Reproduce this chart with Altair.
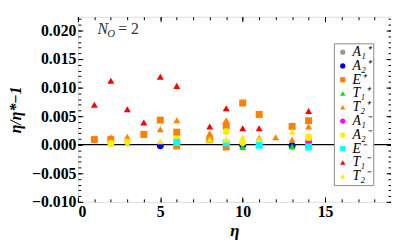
import altair as alt
import pandas as pd

# ---------------- data ----------------
cats = ["A₁⁺", "A₂⁺", "E⁺", "T₁⁺", "T₂⁺", "A₁⁻", "A₂⁻", "E⁻", "T₁⁻", "T₂⁻"]
colors = ["#9a9a9a", "#0000EE", "#FF8000", "#00E000", "#FF8000",
          "#FF00FF", "#FFEE00", "#00FFFF", "#FF0000", "#FFEE00"]
shapes = ["circle", "circle", "square", "triangle-up", "triangle-up",
          "circle", "circle", "square", "triangle-up", "triangle-up"]

A1p_x, A1p_y = [], []
A2p_x = [5, 10, 13, 14]
A2p_y = [-0.0002, -0.0001, -0.0002, -0.0002]
Ep_x = [1, 2, 4, 5, 6, 6, 8, 9, 9, 10, 11, 13, 14]
Ep_y = [0.0009, 0.0009, 0.0018, 0.0043, 0.0022, -0.0002, 0.0009, 0.0033,
        -0.0004, 0.0073, 0.0053, 0.0032, 0.0042]
T1p_x = [10, 13]
T1p_y = [-0.0004, -0.0003]
T2p_x = [2, 3, 5, 6, 8, 8, 9, 11, 12, 13, 14]
T2p_y = [0.0013, 0.0014, 0.0027, 0.0043, 0.0020, 0.0011, 0.0043, 0.0012,
         0.0013, 0.0009, 0.0032]
A1m_x = [14]
A1m_y = [0.0006]
A2m_x = [2, 3, 6, 9, 10, 14]
A2m_y = [0.0002, 0.0005, 0.0010, 0.0023, 0.0004, 0.0014]
Em_x = [6, 9, 11, 14]
Em_y = [0.0004, 0.0003, -0.0001, -0.0004]
T1m_x = [1, 2, 3, 4, 5, 6, 8, 9, 10, 11, 14]
T1m_y = [0.0070, 0.0112, 0.0062, 0.0039, 0.0119, 0.0103, 0.0032, 0.0064,
         0.0029, 0.0029, 0.0059]
T2m_x = [2, 5, 8, 9, 10, 11, 13, 14]
T2m_y = [0.0003, 0.0006, 0.0009, 0.0009, 0.0012, 0.0010, 0.0023, 0.0012]

x_major = [0, 5, 10, 15]
x_minor = list(range(0, 20))
y_major = [-0.010, -0.005, 0.000, 0.005, 0.010, 0.015, 0.020]
y_minor = [round(-0.010 + 0.001 * i, 3) for i in range(33)]

ann_x, ann_y = 1.19, 0.0193

# ---------------- table ----------------
series = [(A1p_x, A1p_y), (A2p_x, A2p_y), (Ep_x, Ep_y), (T1p_x, T1p_y),
          (T2p_x, T2p_y), (A1m_x, A1m_y), (A2m_x, A2m_y), (Em_x, Em_y),
          (T1m_x, T1m_y), (T2m_x, T2m_y)]
rows = []
for c, (xs_, ys_) in zip(cats, series):
    for a, b in zip(xs_, ys_):
        rows.append({"eta": a, "val": b, "irrep": c, "ord": cats.index(c)})
df = pd.DataFrame(rows)

xs = alt.Scale(domain=[0, 19], nice=False, zero=False)
ys = alt.Scale(domain=[-0.010, 0.0224], nice=False, zero=False)

SERIF = "Liberation Serif"
base = alt.Chart(df)

points = base.mark_point(filled=True, size=50, opacity=1).encode(
    x=alt.X("eta:Q", scale=xs,
            axis=alt.Axis(orient="bottom", values=x_major, ticks=False, domain=False,
                          grid=False, labelFont=SERIF, labelFontWeight="bold",
                          labelFontSize=16, labelPadding=2, labelColor="black",
                          title="η", titleFont=SERIF, titleFontStyle="italic",
                          titleFontWeight="bold", titleFontSize=17, titlePadding=3,
                          titleColor="black")),
    y=alt.Y("val:Q", scale=ys,
            axis=alt.Axis(orient="left", values=y_major, ticks=False, domain=False,
                          grid=False, format=".3f", labelFont=SERIF,
                          labelFontWeight="bold", labelFontSize=16, labelPadding=2,
                          labelColor="black", title="η/η*−1", titleFont=SERIF,
                          titleFontStyle="italic", titleFontWeight="bold",
                          titleFontSize=16, titlePadding=8, titleColor="black")),
    color=alt.Color("irrep:N", scale=alt.Scale(domain=cats, range=colors),
                    legend=alt.Legend(title=None, orient="none", legendX=260, legendY=27,
                                      labelFont=SERIF, labelFontStyle="italic",
                                      labelFontSize=14, labelColor="black",
                                      symbolSize=28, rowPadding=0,
                                      strokeColor="#888888", fillColor="white",
                                      padding=2, labelOffset=3, symbolStrokeWidth=0)),
    shape=alt.Shape("irrep:N", scale=alt.Scale(domain=cats, range=shapes), legend=alt.Legend(title=None)),
    order=alt.Order("ord:Q"),
)


def tick_layer(xorient, yorient, xvals, yvals, size):
    return base.mark_point(opacity=0).encode(
        x=alt.X("eta:Q", scale=xs,
                axis=alt.Axis(orient=xorient, values=xvals, labels=False, domain=False,
                              grid=False, ticks=True, tickSize=size, offset=-size,
                              tickColor="black", tickWidth=1, title=None)),
        y=alt.Y("val:Q", scale=ys,
                axis=alt.Axis(orient=yorient, values=yvals, labels=False, domain=False,
                              grid=False, ticks=True, tickSize=size, offset=-size,
                              tickColor="black", tickWidth=1, title=None)),
    )


t1 = tick_layer("bottom", "left", x_major, y_major, 5)
t2 = tick_layer("bottom", "left", x_minor, y_minor, 3)
t3 = tick_layer("top", "right", x_major, y_major, 5)
t4 = tick_layer("top", "right", x_minor, y_minor, 3)

zero = alt.Chart(pd.DataFrame({"z": [0.0]})).mark_rule(color="black", strokeWidth=1.3).encode(
    y=alt.Y("z:Q", scale=ys, axis=None)
)

ann = pd.DataFrame({"x": [ann_x], "y": [ann_y]})
annb = alt.Chart(ann)
enc = dict(x=alt.X("x:Q", scale=xs, axis=None), y=alt.Y("y:Q", scale=ys, axis=None))
n1 = annb.mark_text(text="N", font=SERIF, fontStyle="italic", fontSize=16, align="left",
                    baseline="alphabetic", color="#333333").encode(**enc)
n2 = annb.mark_text(text="O", font=SERIF, fontStyle="italic", fontSize=11, align="left",
                    baseline="alphabetic", dx=10, dy=3, color="#333333").encode(**enc)
n3 = annb.mark_text(text="= 2", font=SERIF, fontSize=16, align="left",
                    baseline="alphabetic", dx=21, color="#333333").encode(**enc)

chart = alt.layer(zero, t1, t2, t3, t4, points, n1, n2, n3).resolve_axis(
    x="independent", y="independent"
).properties(
    width=318, height=188,
    autosize=alt.AutoSizeParams(type="none"),
    padding={"left": 71, "top": 7, "right": 0, "bottom": 45},
).configure_view(stroke="black", strokeWidth=1.5).configure(background="white")

chart.save("out.html", embed_options={"renderer": "svg", "actions": False})
